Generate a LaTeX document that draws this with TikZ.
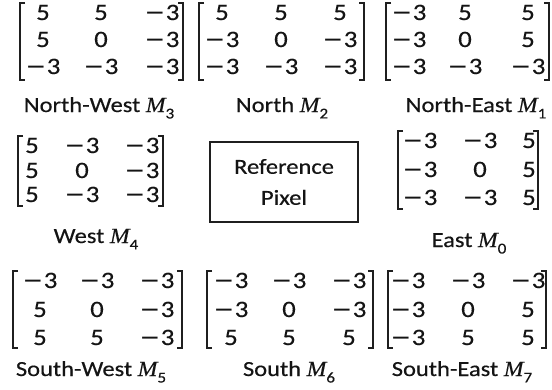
\documentclass[tikz,border=0pt]{standalone}
\usepackage{fontspec}
\setmainfont{Carlito}[FakeStretch=1.14,FakeBold=0.4]
\newfontfamily\mfont{Liberation Serif}[FakeStretch=1.1,FakeBold=0.3]
\newfontfamily\dvfont{DejaVu Sans}[FakeStretch=1.05]
\newcommand\mn{{\dvfont −}\kern0.5pt}
\newcommand\Msub[1]{{\mfont\itshape M}\raisebox{-0.3em}{\fontsize{15}{15}\selectfont #1}}
\newcommand\krow[8]{%
  \node[ent] (#1a) at (#3,#2) {#6};
  \node[ent] (#1b) at (#4,#2) {#7};
  \node[ent] (#1c) at (#5,#2) {#8};}
\newcommand\kbr[4]{%
  \draw[brk] (#1+5,#3) -- (#1,#3) -- (#1,#4) -- (#1+5,#4);
  \draw[brk] (#2-5,#3) -- (#2,#3) -- (#2,#4) -- (#2-5,#4);}
\tikzset{
  ent/.style={anchor=base, inner sep=0pt, text=black!92, font=\fontsize{23.5}{23.5}\selectfont},
  lab/.style={anchor=base, inner sep=0pt, text=black!92, font=\fontsize{21.5}{21.5}\selectfont},
  brk/.style={line width=1.8pt, draw=black!88},
  refbox/.style={draw=black!88, line width=1.8pt, align=center, text=black!92,
    minimum width=148pt, minimum height=80pt, font=\fontsize{21.5}{31}\selectfont}
}
\begin{document}
\begin{tikzpicture}[x=1pt,y=-1pt]
\useasboundingbox[fill=white] (0,0) rectangle (552,389);
% North-West
\krow{nwA}{20}{43}{101}{162}{5}{5}{\mn3}
\krow{nwB}{47}{43}{101}{162}{5}{0}{\mn3}
\krow{nwC}{74}{43}{101}{162}{\mn3}{\mn3}{\mn3}
\kbr{20}{183}{3}{80}
\node[lab] (nwl) at (99,112) {North-West \Msub{3}};
% North
\krow{nA}{20}{222}{281}{340}{5}{5}{5}
\krow{nB}{47}{222}{281}{340}{\mn3}{0}{\mn3}
\krow{nC}{74}{222}{281}{340}{\mn3}{\mn3}{\mn3}
\kbr{199}{364}{3}{80}
\node[lab] (nl) at (282,112) {North \Msub{2}};
% North-East
\krow{neA}{20}{409}{465}{528}{\mn3}{5}{5}
\krow{neB}{47}{409}{465}{528}{\mn3}{0}{5}
\krow{neC}{74}{409}{465}{528}{\mn3}{\mn3}{\mn3}
\kbr{386}{549}{3}{80}
\node[lab] (nel) at (476,112) {North-East \Msub{1}};
% West
\krow{wA}{153}{32}{82}{142}{5}{\mn3}{\mn3}
\krow{wB}{178}{32}{82}{142}{5}{0}{\mn3}
\krow{wC}{202}{32}{82}{142}{5}{\mn3}{\mn3}
\kbr{18}{163}{136}{206}
\node[lab] (wl) at (96,243) {West \Msub{4}};
% Reference pixel
\node[refbox] (ref) at (284,182) {Reference\\Pixel};
% East
\krow{eA}{148}{420}{480}{529}{\mn3}{\mn3}{5}
\krow{eB}{177}{420}{480}{529}{\mn3}{0}{5}
\krow{eC}{205}{420}{480}{529}{\mn3}{\mn3}{5}
\kbr{398}{538}{131}{209}
\node[lab] (el) at (469,247) {East \Msub{0}};
% South-West
\krow{swA}{288}{40}{97}{157}{\mn3}{\mn3}{\mn3}
\krow{swB}{317}{40}{97}{157}{5}{0}{\mn3}
\krow{swC}{345}{40}{97}{157}{5}{5}{\mn3}
\kbr{13}{182}{271}{348}
\node[lab] (swl) at (91,376) {South-West \Msub{5}};
% South
\krow{sA}{288}{231}{289}{349}{\mn3}{\mn3}{\mn3}
\krow{sB}{317}{231}{289}{349}{\mn3}{0}{\mn3}
\krow{sC}{345}{231}{289}{349}{5}{5}{5}
\kbr{207}{373}{271}{348}
\node[lab] (sl) at (289,376) {South \Msub{6}};
% South-East
\krow{seA}{288}{408}{468}{528}{\mn3}{\mn3}{\mn3}
\krow{seB}{317}{408}{468}{528}{\mn3}{0}{5}
\krow{seC}{345}{408}{468}{528}{\mn3}{5}{5}
\kbr{388}{546}{271}{348}
\node[lab] (sel) at (462,376) {South-East \Msub{7}};
\end{tikzpicture}
\end{document}
